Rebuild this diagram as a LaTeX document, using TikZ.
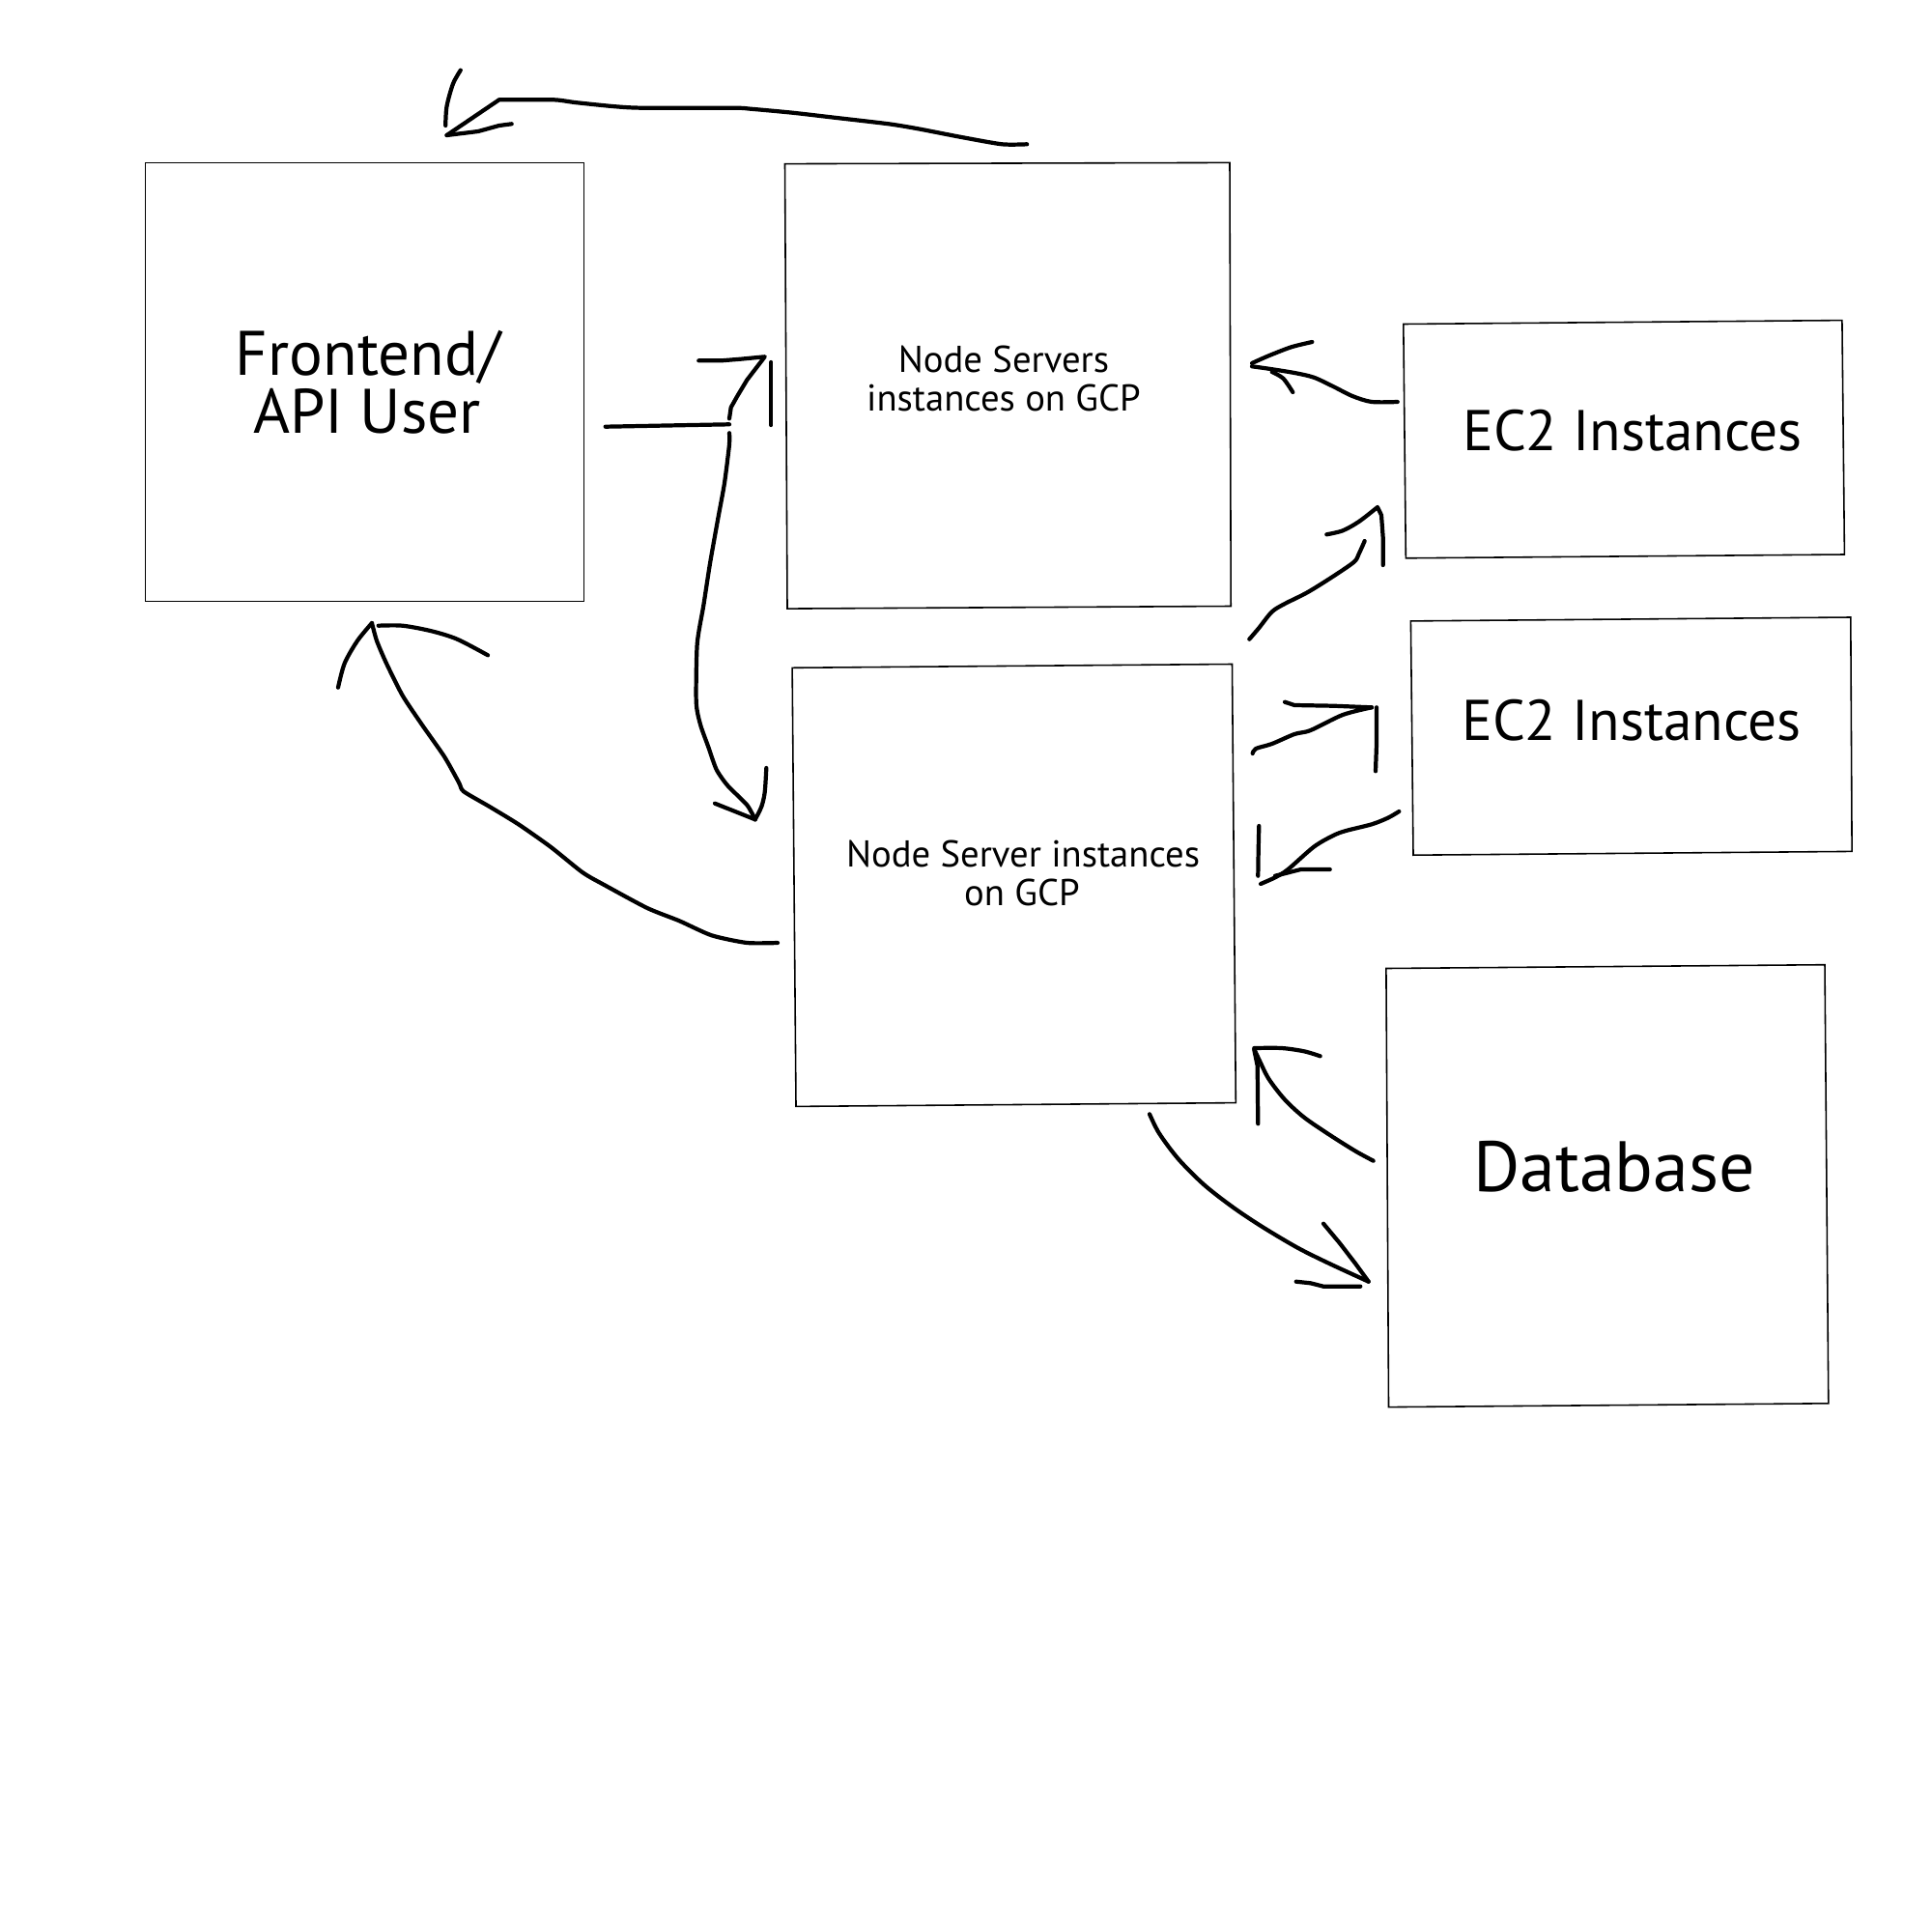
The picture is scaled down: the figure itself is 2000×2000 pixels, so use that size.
\documentclass[tikz,border=0pt]{standalone}
\usepackage{fontspec}
\setmainfont{PT Sans}
\begin{document}
\begin{tikzpicture}[x=0.01cm,y=-0.01cm]
\tikzset{
  pen/.style={line width=1.2pt, line cap=round, line join=round},
  frame/.style={line width=0.45pt, line join=miter},
  txt/.style={anchor=base, inner sep=0pt, outer sep=0pt},
  fefont/.style={font=\fontsize{18.5}{22}\selectfont},
  dbfont/.style={font=\fontsize{21}{25}\selectfont},
  mid/.style={font=\fontsize{16.9}{20}\selectfont},
  small/.style={font=\fontsize{11}{13}\selectfont}
}
\fill[white] (0,0) rectangle (2000,2000);
\useasboundingbox (0,0) rectangle (2000,2000);

% boxes
\draw[frame] (150.5,168.4) -- (604.6,168.4) -- (604.6,622.4) -- (150.5,622.4) -- cycle;
\draw[frame] (812.5,169.6) -- (1273,168.4) -- (1274.2,627.5) -- (815,630.1) -- cycle;
\draw[frame] (820.1,691.3) -- (1275.5,687.5) -- (1279.3,1141.6) -- (824,1145.4) -- cycle;
\draw[frame] (1452.8,335.5) -- (1906.9,331.6) -- (1909.4,574) -- (1455.3,577.8) -- cycle;
\draw[frame] (1460.4,642.9) -- (1915.8,639) -- (1917.1,881.4) -- (1463,885.2) -- cycle;
\draw[frame] (1434.9,1002.5) -- (1889,998.7) -- (1892.8,1452.8) -- (1437.5,1456.6) -- cycle;

% texts
\node[txt,fefont] (fe1) at (381,388.3) {Frontend/};
\node[txt,fefont] (fe2) at (380,448) {API User};
\node[txt,small] (na1) at (1039,385) {Node Servers};
\node[txt,small] (na2) at (1039,425) {instances on GCP};
\node[txt,small] (nb1) at (1059,897) {Node Server instances};
\node[txt,small] (nb2) at (1058,937) {on GCP};
\node[txt,mid] (ec1) at (1690,466.7) {EC2 Instances};
\node[txt,mid] (ec2) at (1689,766.7) {EC2 Instances};
\node[txt,dbfont] (db) at (1671,1233) {Database};

% top arrow: node servers -> frontend
\draw[pen] plot[smooth,tension=0.4] coordinates {(1063.1,149.3) (1037.1,149.3) (993.7,141.7) (950.4,133.3) (920,128.3) (863.6,121.7) (820.3,116.7) (776.9,112.7) (759.6,111.7) (664.2,111.7) (633.8,110) (594.8,106) (573.1,103.3) (516.7,103.3)} -- (462.5,140);
\draw[pen] (462.5,140) -- (495,136) -- (516.7,130) -- (529.7,128.3);
\draw[pen] plot[smooth,tension=0.5] coordinates {(461.2,130) (462.5,110) (469,86.7) (476.8,72.7)};

% frontend -> top node
\draw[pen] (626.7,441.7) -- (716.7,440) -- (755,439.3);
\draw[pen] (723.3,373.3) -- (746.7,373.3) -- (766.7,371.7) -- (791.7,369.3) -- (773.3,393.3) -- (763.3,410) -- (756.7,421.7) -- (755,433.3);
\draw[pen] (798.3,375) -- (798.3,440);

% long stroke down to bottom node
\draw[pen] plot[smooth,tension=0.4] coordinates {(755,448.3) (755,460) (750,500) (743.3,536.7) (735,583.3) (728.3,626.7) (721.7,666.7) (720.7,726.7) (725,750) (733.3,773.3) (741.7,796.7) (753.3,813.3) (773.3,833.3) (781.7,848.3)};
\draw[pen] (740,831.7) -- (781.7,848.3);
\draw[pen] plot[smooth,tension=0.5] coordinates {(781.7,848.3) (788.3,835) (791.7,820) (793.3,795)};

% bottom node -> frontend
\draw[pen] plot[smooth,tension=0.4] coordinates {(805,976) (773.3,976) (736.7,968.3) (703.3,953.3) (670,940) (626.7,916.7) (603.3,903.3) (570,876.7) (536.7,853.3) (506.7,835) (480,819.3) (475,810) (460,783.3) (436.7,750) (416.7,720) (400,686.7) (390,663.3) (385,645)};
\draw[pen] plot[smooth,tension=0.5] coordinates {(385,645) (370,663.3) (356.7,686.7) (350,711.7)};
\draw[pen] plot[smooth,tension=0.5] coordinates {(391.7,647.7) (416.7,647.7) (446.7,653.3) (473.3,661.7) (505,678.3)};

% EC2 top -> top node
\draw[pen] plot[smooth,tension=0.5] coordinates {(1446.7,416) (1420,416) (1400,410) (1380,400) (1360,390.7) (1340,386) (1313.3,381.7) (1296,379.3)};
\draw[pen] plot[smooth,tension=0.5] coordinates {(1296,376) (1313.3,368.3) (1336.7,359.3) (1358.3,354)};
\draw[pen] plot[smooth,tension=0.5] coordinates {(1316.7,385) (1328.3,391.7) (1338.3,406)};

% bottom node -> EC2 top
\draw[pen] plot[smooth,tension=0.5] coordinates {(1293.3,661.7) (1303.3,650) (1316.7,633.3) (1330,625) (1353.3,613.3) (1380,596.7) (1401.7,581.7) (1406.7,573.3) (1412.7,560)};
\draw[pen] plot[smooth,tension=0.5] coordinates {(1373.3,553.3) (1390,549.3) (1406.7,540) (1426,525)} -- (1430,533.3) -- (1431.7,556.7) -- (1431.7,585);

% bottom node -> EC2 second
\draw[pen] plot[smooth,tension=0.5] coordinates {(1296.7,780) (1300,775) (1316.7,770) (1340,760) (1356.7,756) (1390,740) (1420,732.3)};
\draw[pen] (1330,726.7) -- (1340,730) -- (1380,730.7) -- (1420,732.3);
\draw[pen] (1425,732.3) -- (1425,770) -- (1424,798.3);

% EC2 second -> bottom node
\draw[pen] plot[smooth,tension=0.5] coordinates {(1448.3,840) (1436.7,846.7) (1420,853.3) (1393.3,860) (1380,865) (1360,876.7) (1333.3,900) (1320,908.3) (1305,915)};
\draw[pen] (1303.3,855) -- (1302.7,880) -- (1302.3,906.7);
\draw[pen] (1320,906.7) -- (1346.7,900) -- (1376.7,900);

% database -> bottom node
\draw[pen] plot[smooth,tension=0.5] coordinates {(1421.7,1201.7) (1403.3,1191.7) (1376.7,1175) (1350,1156.7) (1330,1138.3) (1313.3,1116.7) (1303.3,1096.7) (1298.3,1086)};
\draw[pen] plot[smooth,tension=0.5] coordinates {(1366.7,1093.3) (1350,1088.3) (1326.7,1085) (1298.3,1085)};
\draw[pen] (1298.3,1086.7) -- (1301.7,1103.3) -- (1302.3,1163.3);

% bottom node -> database
\draw[pen] plot[smooth,tension=0.5] coordinates {(1190,1153.3) (1200,1173.3) (1220,1200) (1246.7,1226.7) (1276.7,1250) (1306.7,1270) (1343.3,1291.7) (1376.7,1308.3) (1416.7,1326.7)};
\draw[pen] (1370,1266.7) -- (1386.7,1286.7) -- (1403.3,1308.3) -- (1416.7,1326.7);
\draw[pen] (1341.7,1326.7) -- (1356.7,1328.3) -- (1370,1331.7) -- (1408.3,1331.7);
\end{tikzpicture}
\end{document}
